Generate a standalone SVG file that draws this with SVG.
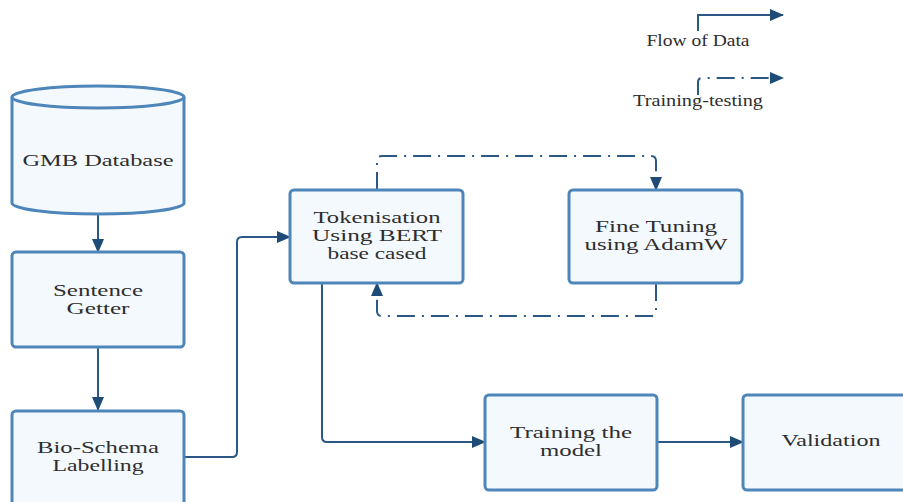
<svg xmlns="http://www.w3.org/2000/svg" width="903" height="502" viewBox="0 0 903 502">
<defs>
<marker id="ah" markerUnits="userSpaceOnUse" markerWidth="14" markerHeight="12" refX="13" refY="6" orient="auto">
<path d="M0,0 L14,6 L0,12 z" fill="#1f4b77"/>
</marker>
<style>
.box{fill:#f4f9fe;stroke:#4f86ba;stroke-width:3}
.t{font-size:16px;fill:#2e2e2e;text-anchor:middle}
.c{fill:none;stroke:#2c5886;stroke-width:2}
.d{stroke-dasharray:18 7 2 7}
</style>
</defs>
<rect width="903" height="502" fill="#ffffff"/>
<g id="legend" font-family="Liberation Serif, DejaVu Serif, serif">
<path class="c" d="M698,31 V15 H783" marker-end="url(#ah)"/>
<text class="t" x="698" y="46" textLength="103" lengthAdjust="spacingAndGlyphs">Flow of Data</text>
<path class="c d" d="M698,95 V82 Q698,78 702,78 H783" marker-end="url(#ah)"/>
<text class="t" x="698" y="106" textLength="130" lengthAdjust="spacingAndGlyphs">Training-testing</text>
</g>
<g id="connectors">
<path class="c" d="M98,214 V252" marker-end="url(#ah)"/>
<path class="c" d="M98,347 V410" marker-end="url(#ah)"/>
<path class="c" d="M184,457 H232 Q237,457 237,452 V242 Q237,237 242,237 H290" marker-end="url(#ah)"/>
<path class="c" d="M322,283 V437 Q322,442 327,442 H485" marker-end="url(#ah)"/>
<path class="c" d="M657,442 H743" marker-end="url(#ah)"/>
<path class="c d" d="M377,190 V161 Q377,156 382,156 H651 Q656,156 656,161 V190" marker-end="url(#ah)"/>
<path class="c d" d="M656,283 V311 Q656,316 651,316 H382 Q377,316 377,311 V283" marker-end="url(#ah)"/>
</g>
<g id="gmb" font-family="Liberation Serif, DejaVu Serif, serif">
<path class="box" d="M12,97 A86,11 0 0 1 184,97 V203 A86,11 0 0 1 12,203 Z"/>
<path class="box" style="fill:none" d="M12,97 A86,11 0 0 0 184,97"/>
<text class="t" x="98" y="166" textLength="151" lengthAdjust="spacingAndGlyphs">GMB Database</text>
</g>
<g id="sentence" font-family="Liberation Serif, DejaVu Serif, serif">
<rect class="box" x="12" y="252" width="172" height="95" rx="4"/>
<text class="t" x="98" y="296" textLength="90" lengthAdjust="spacingAndGlyphs">Sentence</text>
<text class="t" x="98" y="314" textLength="63" lengthAdjust="spacingAndGlyphs">Getter</text>
</g>
<g id="bio" font-family="Liberation Serif, DejaVu Serif, serif">
<rect class="box" x="12" y="411" width="172" height="100" rx="4"/>
<text class="t" x="98" y="453" textLength="122" lengthAdjust="spacingAndGlyphs">Bio-Schema</text>
<text class="t" x="98" y="471" textLength="91" lengthAdjust="spacingAndGlyphs">Labelling</text>
</g>
<g id="token" font-family="Liberation Serif, DejaVu Serif, serif">
<rect class="box" x="290" y="190" width="173" height="93" rx="4"/>
<text class="t" x="377" y="223" textLength="127" lengthAdjust="spacingAndGlyphs">Tokenisation</text>
<text class="t" x="377" y="241" textLength="130" lengthAdjust="spacingAndGlyphs">Using BERT</text>
<text class="t" x="377" y="259" textLength="99" lengthAdjust="spacingAndGlyphs">base cased</text>
</g>
<g id="finetune" font-family="Liberation Serif, DejaVu Serif, serif">
<rect class="box" x="569" y="190" width="173" height="93" rx="4"/>
<text class="t" x="656" y="232" textLength="122" lengthAdjust="spacingAndGlyphs">Fine Tuning</text>
<text class="t" x="656" y="250" textLength="143" lengthAdjust="spacingAndGlyphs">using AdamW</text>
</g>
<g id="training" font-family="Liberation Serif, DejaVu Serif, serif">
<rect class="box" x="485" y="395" width="172" height="95" rx="4"/>
<text class="t" x="571" y="438" textLength="122" lengthAdjust="spacingAndGlyphs">Training the</text>
<text class="t" x="571" y="456" textLength="62" lengthAdjust="spacingAndGlyphs">model</text>
</g>
<g id="validation" font-family="Liberation Serif, DejaVu Serif, serif">
<rect class="box" x="743" y="395" width="173" height="95" rx="4"/>
<text class="t" x="831" y="446" textLength="99" lengthAdjust="spacingAndGlyphs">Validation</text>
</g>
</svg>
